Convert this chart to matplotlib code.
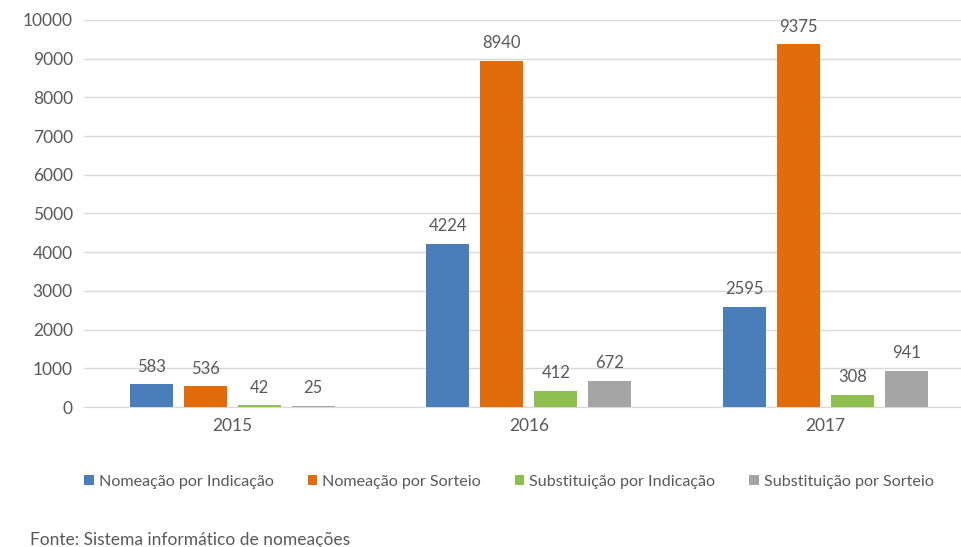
import matplotlib.pyplot as plt
import numpy as np

plt.rcParams['font.family'] = ['Lato', 'DejaVu Sans']

anos = ['2015', '2016', '2017']
series = ['Nomeação por Indicação', 'Nomeação por Sorteio',
          'Substituição por Indicação', 'Substituição por Sorteio']
nomeacao_indicacao = [583, 4224, 2595]
nomeacao_sorteio = [536, 8940, 9375]
substituicao_indicacao = [42, 412, 308]
substituicao_sorteio = [25, 672, 941]
valores = [nomeacao_indicacao, nomeacao_sorteio, substituicao_indicacao, substituicao_sorteio]
cores = ['#4a7ebb', '#e36c0a', '#8fc04f', '#a5a5a5']

texto = '#595959'

fig = plt.figure(figsize=(9.62, 5.47), dpi=100)
ax = fig.add_axes([84 / 962, 1 - 407 / 547, (962 - 84) / 962, (407 - 20) / 547])

x = np.arange(len(anos))
passo = 0.182
largura = 0.145
for i, (nome, vals, cor) in enumerate(zip(series, valores, cores)):
    pos = x + (i - 1.5) * passo
    bars = ax.bar(pos, vals, largura, color=cor, label=nome, zorder=3)
    for b, v in zip(bars, vals):
        ax.text(b.get_x() + b.get_width() / 2, v + 250, str(v),
                ha='center', va='bottom', fontsize=12, color=texto)

ax.set_xlim(-0.5, 2.46)
ax.set_ylim(0, 10000)
ax.set_yticks(np.arange(0, 10001, 1000))
ax.set_xticks(x)
ax.set_xticklabels(anos)
ax.yaxis.grid(True, color='#d9d9d9', linewidth=1, zorder=0)
ax.tick_params(axis='both', length=0, labelsize=12.5, colors=texto, pad=8)
for s in ['top', 'right', 'left']:
    ax.spines[s].set_visible(False)
ax.spines['bottom'].set_color('#d9d9d9')

fig.legend(loc='center', bbox_to_anchor=(509 / 962, 1 - 482 / 547), ncol=4,
           frameon=False, fontsize=11.6, handlelength=0.6, handleheight=0.6,
           handletextpad=0.3, columnspacing=2.1, labelcolor=texto)

fig.text(30 / 962, 1 - 540 / 547, 'Fonte: Sistema informático de nomeações',
         fontsize=12.5, color=texto, va='center', ha='left')

fig.savefig('out.png', dpi=100)
